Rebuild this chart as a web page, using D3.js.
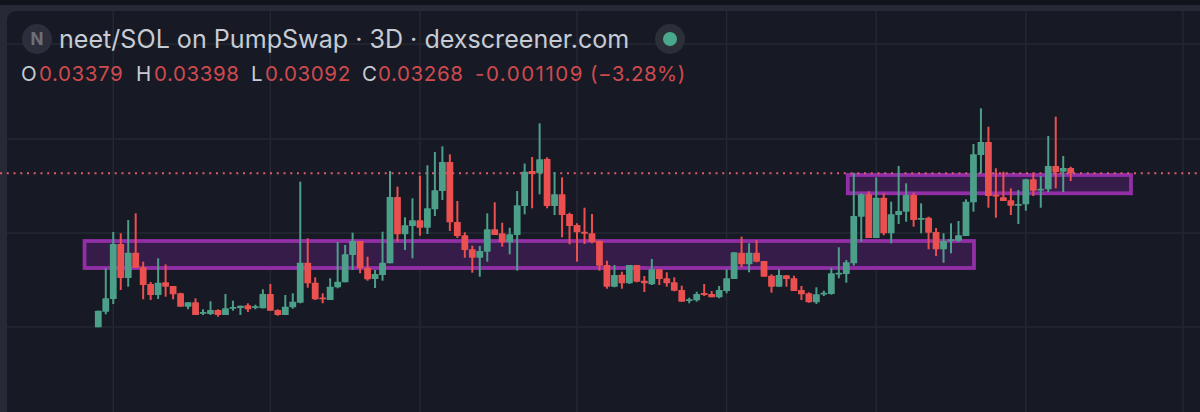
<!DOCTYPE html>
<html><head><meta charset="utf-8">
<script src="https://cdn.jsdelivr.net/npm/d3@7"></script>
<style>html,body{margin:0;padding:0;background:#11141d;overflow:hidden}svg{display:block}text{font-family:Inter,sans-serif}</style>
</head><body><svg id="c" width="1200" height="412"></svg>
<script>
// prices in units of 0.0001 SOL
const opens=[172.7,188.3,201,256,222,247.3,232.7,216,205,217.7,214,206.7,193.3,197.7,186.3,186,190,185,191.3,192,194.7,192.3,191.7,206,190,185,192.7,197.3,237.3,217.3,202.5,200,212.7,217.7,245,259,232.3,221,225,236.7,303,265.7,274,279.7,272.3,290.7,309,338,278,264.7,250.7,242.3,248.3,270.7,266.7,257.7,265,294,329,326.7,341,294,305.7,286,275,268.3,266.7,259.3,235,213.3,225.3,216.7,235,219.3,215.7,230.7,221.7,217.7,210,199,199.7,207,206,202.7,209,221,247.3,235.7,247.3,239,224.3,213.3,224.7,221.7,210,206.7,197.7,205.7,206,226,226,236.7,283.3,305.7,262,302.3,266.7,285,288.3,305,280.3,282.3,268,250.7,259.3,259.3,264,297.7,345,358,305.3,302.7,299.7,294.3,295.7,320.7,309.7,310.7,334,328.3,332];
const highs=[189.3,231.7,268,266.7,280,286.7,238.3,218,241.7,235.7,214,207.3,197.7,201.7,190.7,198.7,190.7,206,199.3,194.3,196.7,195.3,210.7,216,190.7,205,206.7,318.3,261.7,222.7,206.7,221.7,258,255,267.3,259,243.3,230,268.3,329,313.3,282.7,301.7,324.3,334.7,348,353.7,345.7,299,267.7,254.3,254,286.7,297.7,277.3,272.3,309,336.5,343,376.7,342.7,327.7,322.7,287.3,276.7,292.3,286,259.3,239.3,235,228.3,235,235,224,241,230.7,227.7,222.7,214.3,202.3,208.3,216,209,214,230.7,247.7,263.3,256.7,260,239,225.7,230.7,224.7,224.3,214,207.7,212.7,209.3,232.3,252.7,240,327.3,306.7,308.7,322.7,306.7,298.3,334,316.7,307.3,296.7,283.3,272,266.7,276.7,279,300.7,356,391.7,373.3,331.7,328.3,311.7,310,321.3,327.3,324,364,383.3,344,333.3];
const lows=[172.7,185.7,196,210,213.3,232.3,200.7,200,201,203.3,200.7,193.3,190.7,185,185,185,183.3,185,189.3,185,188,190.7,191.7,189.3,184.3,185,191.3,196.7,212.3,200,196.7,200,211.7,217.7,230,226.7,219.3,212,219.3,236.7,258.3,250,241.7,264.3,266,284,300,269,262,242.3,227.3,223.3,238.3,265,253.3,245.7,229.3,285.7,291.7,305.7,291.7,285,262.7,255.7,238.3,256,256.7,229.3,211.3,212.7,211.3,216,217.7,208,215,215,213.3,208.7,198.3,196.7,198.3,204,202.7,201.7,206.7,221,232.7,227.7,237.7,223.3,207.3,213.3,213.3,209,200,197.3,196,204,205.3,221.7,217.3,234.3,258.3,262,262,264.7,256.7,276,278.3,273.3,266.7,250.7,244,237.3,246.7,258.3,264,288.3,326.7,292.3,282.3,299,285,276,289.3,304,292.3,308,311.7,308,319];
const closes=[189.3,201.7,256,222,247.3,232.3,215,205,217.3,213.3,205.7,193.3,197.7,185,188,190,185,191.7,193,194.3,190.7,193.7,206,189.3,185,193.3,198.3,237.3,216.7,200.7,201.5,213.3,218.3,245.7,259,231.7,220.7,226,237.3,303,265.7,274.7,279.7,272.3,291.7,309.7,338,277.7,264,250,242.3,249,270.7,265,257.7,265.7,294.7,328.3,326,340.7,294,305.7,285,274,267.7,266.3,258,234.3,213.3,225,216.7,235,218.3,216.7,230.7,221,216.7,209.3,198.3,200.7,206,205,202.7,210,221.7,247.7,235.7,247.3,238.3,223.3,213.3,225,221,209,205.7,197.7,205.7,207.3,226.7,227.3,237.7,284,305.7,262,302.3,266.7,285.7,289,305,280,282,267.3,250.7,259,260.7,264.7,298.3,345.7,358,304,304.3,299,294.3,296,320.7,309.3,311.3,334,328,332,326.8];
const gridLevels=[173,267,361,456];
const gridCandles=[2,23,43,64,84,104,124,145];
const lastPrice=326.8;
const zoneLeft=[-1.84,100.2], zoneRight=[117.07,138.06], zoneTop=[259,325], zoneBottom=[232,306.7];
const titleText="neet/SOL on PumpSwap · 3D · dexscreener.com";
const iconLetter="N";
const legendLabels=["O","H","L","C"];
const legendValues=["0.03379","0.03398","0.03092","0.03268"];
const changeText="-0.001109"; const percentText="(−3.28%)";

const W=1200,H=412;
const svg=d3.select("#c");
const x=d3.scaleLinear().domain([0,130]).range([98.3,1070.7]);
const y=d3.scaleLinear().domain([88,500]).range([412,0]);
const UP="#4c9f88",DOWN="#e9504f";
// frame
svg.append("rect").attr("x",0).attr("y",5).attr("width",W).attr("height",H).attr("fill","#272a36");
svg.append("rect").attr("x",7).attr("y",11).attr("width",W).attr("height",H).attr("rx",9).attr("fill","#171a25");
// grid
const g=svg.append("g").attr("stroke","#252833").attr("stroke-width",1.5);
g.selectAll(".h").data(gridLevels).join("line").attr("x1",7).attr("x2",W).attr("y1",d=>y(d)).attr("y2",d=>y(d));
g.selectAll(".v").data(gridCandles).join("line").attr("x1",d=>x(d)).attr("x2",d=>x(d)).attr("y1",11).attr("y2",H);
// zones fill
const zones=d3.range(zoneLeft.length);
svg.append("g").selectAll("rect").data(zones).join("rect")
 .attr("x",i=>x(zoneLeft[i])).attr("width",i=>x(zoneRight[i])-x(zoneLeft[i]))
 .attr("y",i=>y(zoneTop[i])).attr("height",i=>y(zoneBottom[i])-y(zoneTop[i]))
 .attr("fill","#351c49").attr("stroke","#922fa7").attr("stroke-width",3.8);
// price line
svg.append("line").attr("x1",0).attr("x2",W).attr("y1",y(lastPrice)).attr("y2",y(lastPrice))
 .attr("stroke","#dc5a6c").attr("stroke-width",2).attr("stroke-dasharray","2 4.75");
// candles
const idx=d3.range(opens.length);
const col=i=>closes[i]>=opens[i]?UP:DOWN;
const cg=svg.append("g");
cg.selectAll(".w").data(idx).join("line").attr("x1",i=>x(i)).attr("x2",i=>x(i))
 .attr("y1",i=>y(highs[i])).attr("y2",i=>y(lows[i])).attr("stroke",col).attr("stroke-width",2);
cg.selectAll(".b").data(idx).join("rect").attr("x",i=>x(i)-3.4).attr("width",6.8)
 .attr("y",i=>y(Math.max(opens[i],closes[i]))).attr("height",i=>Math.max(1.8,Math.abs(y(opens[i])-y(closes[i]))))
 .attr("rx",0.6).attr("fill",col);
// header
const LBL="#c6cbd4",VAL="#cf4a4e";
svg.append("circle").attr("cx",37).attr("cy",39).attr("r",15).attr("fill","#2c2f3b");
svg.append("text").attr("x",37).attr("y",45).attr("text-anchor","middle").attr("font-size",17).attr("font-weight",700).attr("fill","#6c707c").text(iconLetter);
svg.append("text").attr("x",59).attr("y",48).attr("font-size",25.1).attr("fill",LBL).text(titleText);
svg.append("circle").attr("cx",670).attr("cy",39).attr("r",15).attr("fill","#2a2f38");
svg.append("circle").attr("cx",670).attr("cy",39).attr("r",7).attr("fill","#4aa88c");
const labelX=[21,136,251,362], valueX=[39,154,265,378];
const hdr=svg.append("g").attr("font-size",20.5).attr("letter-spacing",0.6);
legendLabels.forEach((l,i)=>{
 hdr.append("text").attr("x",labelX[i]).attr("y",81).attr("fill",LBL).text(l);
 hdr.append("text").attr("x",valueX[i]).attr("y",81).attr("fill",VAL).text(legendValues[i]);
});
hdr.append("text").attr("x",475).attr("y",81).attr("fill",VAL).attr("letter-spacing",1.5).text(changeText);
hdr.append("text").attr("x",590).attr("y",81).attr("fill",VAL).attr("letter-spacing",0.5).text(percentText);
</script></body></html>
